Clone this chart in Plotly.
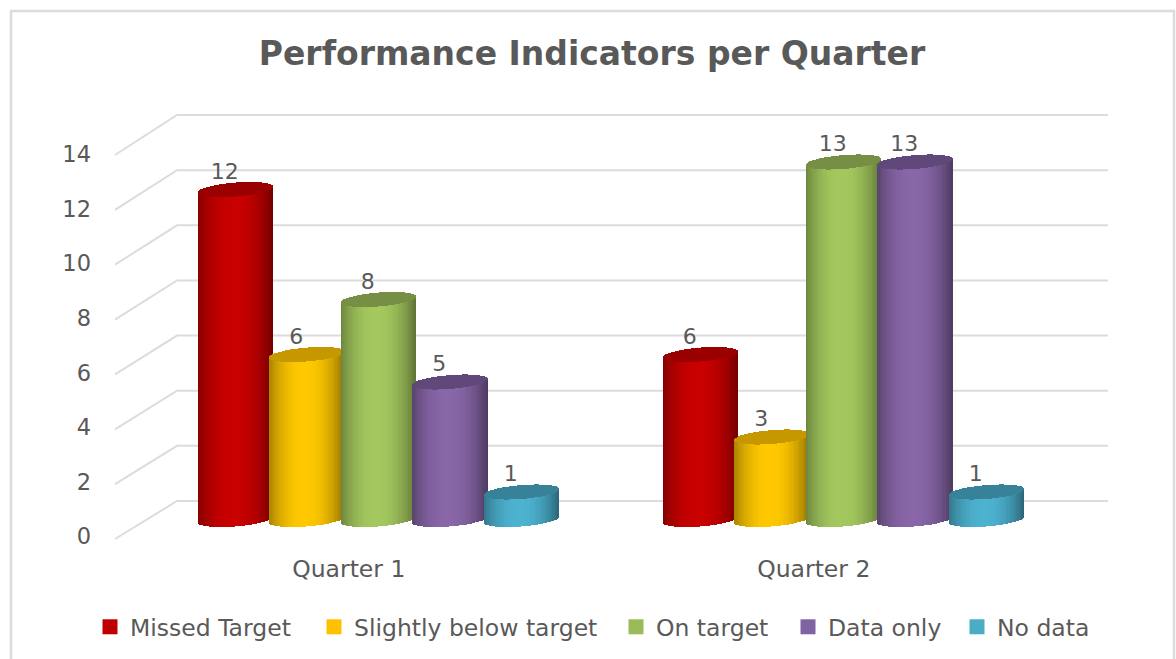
import math
import plotly.graph_objects as go

# ---- data ----
quarters = ["Quarter 1", "Quarter 2"]
missed_target = [12, 6]
slightly_below = [6, 3]
on_target = [8, 13]
data_only = [5, 13]
no_data = [1, 1]
series_names = ["Missed Target", "Slightly below target", "On target", "Data only", "No data"]
series_values = [missed_target, slightly_below, on_target, data_only, no_data]
axis_ticks = [0, 2, 4, 6, 8, 10, 12, 14]

# ---- style ----
body_rgb = [(200, 0, 0), (255, 200, 0), (164, 200, 94), (136, 102, 168), (76, 178, 208)]
cap_rgb = [(154, 0, 0), (199, 151, 0), (118, 143, 68), (96, 73, 122), (56, 130, 153)]
legend_rgb = ["#C00000", "#FFC000", "#9BBB59", "#8064A2", "#4BACC6"]
legend_left_px = [90, 314, 616, 788, 957]
TXT = "#595959"
GRID = "#dcdcdc"
FONT = "DejaVu Sans"

W, H = 1176, 659
PX_CAT = 465.0       # px between categories
X0_PX = 378.8        # px of Quarter 1
PX_UNIT = 27.5       # px per value unit at bar depth
Y0_PX = 519.5        # px of value 0 at bar depth
SPACING = 71.5 / PX_CAT
RADIUS = 37.5 / PX_CAT
RY = 6.9 / PX_UNIT
TILT = 0.08 * PX_CAT / PX_UNIT  # value units per x unit, rising to the right
STRIPS = 60

def xv(px):
    return (px - X0_PX) / PX_CAT

def yv(px):
    return (Y0_PX - px) / PX_UNIT

xr = [xv(0), xv(W)]
yr = [yv(H), yv(0)]

def shade(rgb, t):
    f = 0.62 + 0.38 * (1 - abs(t + 0.05) ** 2.2)
    f = min(1.0, f)
    return "rgb(%d,%d,%d)" % tuple(round(c * f) for c in rgb)

ts = [-1 + (i + 0.5) * 2 / STRIPS for i in range(STRIPS)]
strip_w = RADIUS * 2 / STRIPS * 1.2

fig = go.Figure()

# walls: diagonal + back lines
wx, wy = [], []
for tick in axis_ticks:
    front_y = yv(539 - tick * 27.43)
    back_y = yv(501 - tick * 27.57)
    wx += [xv(115), xv(177), xv(1108), None]
    wy += [front_y, back_y, back_y, None]
fig.add_trace(go.Scatter(x=wx, y=wy, mode="lines", line=dict(color=GRID, width=2),
                         showlegend=False, hoverinfo="skip", xaxis="x", yaxis="y"))

# legend entries, each placed on its own
legend_layouts = {}
for i, (name, col, left) in enumerate(zip(series_names, legend_rgb, legend_left_px)):
    key = "legend" if i == 0 else f"legend{i + 1}"
    fig.add_trace(go.Scatter(x=[None], y=[None], mode="markers", name=name, legend=key,
                             marker=dict(symbol="square", size=15, color=col),
                             xaxis="x", yaxis="y"))
    legend_layouts[key] = dict(orientation="h", x=left / W, xanchor="left",
                               y=1 - 627 / H, yanchor="middle",
                               font=dict(family=FONT, size=23.5, color=TXT),
                               bgcolor="rgba(0,0,0,0)")

# cylinders
for s, (name, vals) in enumerate(zip(series_names, series_values)):
    bx, by, bb, bc = [], [], [], []
    cx, cy, cb = [], [], []
    for q, v in enumerate(vals):
        centre = q + (s - 2) * SPACING
        for t in ts:
            off = t * RADIUS
            e = RY * math.sqrt(max(0, 1 - t * t))
            lo = TILT * off - e
            hi = v + TILT * off
            bx.append(centre + off); bb.append(lo); by.append(hi - lo)
            bc.append(shade(body_rgb[s], t))
            cx.append(centre + off); cb.append(hi - e); cy.append(2 * e)
    fig.add_trace(go.Bar(x=bx, y=by, base=bb, width=strip_w, showlegend=False,
                         marker=dict(color=bc, line=dict(width=0)), hoverinfo="skip",
                         xaxis="x2", yaxis="y2"))
    fig.add_trace(go.Bar(x=cx, y=cy, base=cb, width=strip_w, showlegend=False,
                         marker=dict(color="rgb(%d,%d,%d)" % cap_rgb[s], line=dict(width=0)),
                         hoverinfo="skip", xaxis="x2", yaxis="y2"))

# value labels
for s, vals in enumerate(series_values):
    fig.add_trace(go.Scatter(
        x=[q + (s - 2) * SPACING - 11 / PX_CAT for q in range(len(vals))],
        y=[v + 16.5 / PX_UNIT for v in vals],
        mode="text", text=[str(v) for v in vals], textposition="middle center",
        textfont=dict(family=FONT, size=22, color=TXT),
        showlegend=False, hoverinfo="skip", xaxis="x2", yaxis="y2"))

fig.update_layout(
    width=W, height=H, margin=dict(l=0, r=0, t=0, b=0),
    paper_bgcolor="white", plot_bgcolor="rgba(0,0,0,0)",
    barmode="overlay", bargap=0,
    title=dict(text="<b>Performance Indicators per Quarter</b>",
               x=592 / W, xanchor="center", xref="paper",
               y=1 - 53 / H, yanchor="middle", yref="paper",
               font=dict(family=FONT, size=33, color=TXT)),
    xaxis=dict(range=xr, domain=[0, 1], tickmode="array",
               tickvals=[q - 30 / PX_CAT for q in range(len(quarters))], ticktext=quarters,
               showgrid=False, zeroline=False, showline=False, ticks="",
               anchor="free", position=1 - 552 / H,
               tickfont=dict(family=FONT, size=23.5, color=TXT)),
    yaxis=dict(range=yr, domain=[0, 1], tickmode="array",
               tickvals=[yv(536.5 - t * 27.3) for t in axis_ticks],
               ticktext=[str(t) for t in axis_ticks],
               showgrid=False, zeroline=False, showline=False, ticks="",
               anchor="free", position=91 / W,
               tickfont=dict(family=FONT, size=22.5, color=TXT)),
    xaxis2=dict(range=xr, overlaying="x", visible=False, anchor="y2"),
    yaxis2=dict(range=yr, overlaying="y", visible=False, anchor="x2"),
    shapes=[dict(type="rect", xref="paper", yref="paper",
                 x0=11 / W, x1=1174 / W, y0=-0.05, y1=1 - 11 / H,
                 line=dict(color=GRID, width=2.5), fillcolor="rgba(0,0,0,0)", layer="below")],
    **legend_layouts,
)

fig.write_html("out.html", config=dict(displayModeBar=False),
               post_script="document.body.style.margin='0';")
